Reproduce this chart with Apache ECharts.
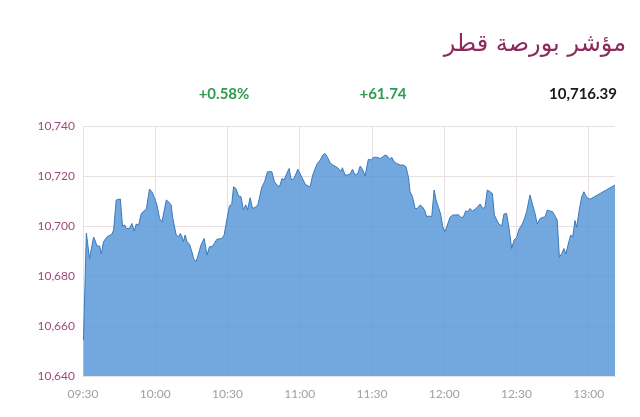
<!DOCTYPE html>
<html>
<head>
<meta charset="utf-8">
<script src="https://cdn.jsdelivr.net/npm/echarts@6/dist/echarts.min.js"></script>
<style>
html,body{margin:0;padding:0;background:#fff;}
#chart{width:640px;height:417px;}
</style>
</head>
<body>
<div id="chart"></div>
<script>
// Minutes after 09:30 open
const minutes = [
  0.2, 1.4, 2.7, 3.4, 4.4, 5.1, 5.8, 6.9, 7.6, 8.5, 10.0, 12.0, 12.7, 13.8, 14.5, 15.5,
  16.4, 17.3, 18.0, 18.7, 19.3, 20.3, 21.3, 22.1, 23.1, 24.1, 24.9, 26.3, 27.6, 28.6, 29.6,
  30.7, 31.8, 32.8, 33.4, 34.6, 35.5, 36.6, 37.3, 38.7, 39.7, 40.4, 41.1, 41.7, 42.4, 43.2,
  44.2, 45.2, 45.9, 47.0, 47.7, 49.0, 50.3, 51.5, 52.5, 53.5, 54.5, 55.6, 57.7, 58.6, 59.8,
  60.8, 61.8, 62.5, 63.5, 64.6, 65.6, 66.6, 67.6, 68.3, 69.4, 70.4, 71.5, 72.6, 74.3, 75.4,
  76.6, 77.4, 78.4, 79.5, 80.5, 81.6, 82.6, 83.5, 84.6, 85.6, 86.4, 87.4, 88.4, 89.2, 90.2,
  91.3, 92.2, 93.4, 94.3, 95.4, 96.4, 97.3, 98.5, 99.6, 100.5, 101.5, 102.6, 103.7, 105.1,
  106.1, 107.1, 107.7, 108.8, 109.8, 110.9, 111.9, 113.0, 114.1, 115.1, 116.2, 117.1, 117.8,
  118.5, 119.5, 120.6, 122.0, 123.4, 124.5, 125.4, 126.4, 127.2, 128.2, 129.2, 130.3, 131.7,
  133.0, 134.1, 135.1, 135.8, 136.8, 137.9, 138.8, 140.0, 141.1, 142.0, 142.7, 143.8, 144.8,
  145.8, 146.6, 147.6, 148.5, 149.4, 150.3, 151.3, 152.4, 153.5, 154.9, 155.9, 156.8, 157.9,
  158.9, 159.8, 160.7, 161.7, 162.8, 163.7, 164.9, 166.0, 166.9, 167.9, 169.0, 170.0, 170.8,
  171.8, 172.7, 173.9, 174.8, 175.9, 177.0, 178.0, 179.0, 180.1, 181.0, 182.2, 183.1, 184.2,
  185.6, 186.7, 187.7, 188.6, 189.8, 190.9, 191.8, 192.8, 193.9, 195.0, 196.0, 196.9, 197.8,
  198.8, 199.7, 200.5, 201.5, 202.5, 203.3, 204.3, 205.0, 206.1, 207.1, 208.0, 209.1, 210.5,
  220.9
];
const indexValues = [
  10654.4, 10697.2, 10687.0, 10687.0, 10695.6, 10694.0, 10692.0, 10692.0, 10688.8, 10693.7, 10695.7, 10696.7, 10698.4, 10710.4, 10710.8, 10710.8,
  10700.0, 10700.4, 10699.0, 10699.7, 10699.0, 10701.0, 10698.0, 10700.8, 10700.4, 10704.7, 10705.7, 10706.7, 10714.8, 10713.7, 10711.5,
  10708.4, 10703.0, 10701.7, 10701.0, 10710.4, 10709.7, 10708.4, 10703.0, 10696.4, 10695.7, 10697.0, 10695.7, 10693.7, 10696.4, 10693.7,
  10692.8, 10689.7, 10687.0, 10685.7, 10685.7, 10692.4, 10695.0, 10688.4, 10691.7, 10691.7, 10693.0, 10694.7, 10695.0, 10696.4, 10703.0,
  10708.0, 10709.0, 10715.7, 10715.0, 10712.0, 10711.7, 10706.5, 10708.5, 10706.4, 10711.3, 10707.0, 10707.5, 10708.4, 10715.7, 10717.7,
  10721.7, 10721.0, 10721.7, 10717.7, 10716.4, 10715.7, 10719.0, 10718.4, 10721.0, 10723.0, 10718.7, 10718.7, 10720.8, 10722.7, 10720.8,
  10718.7, 10716.8, 10716.0, 10715.7, 10720.4, 10723.0, 10725.0, 10726.4, 10728.4, 10729.0, 10727.5, 10725.3, 10724.4, 10723.7,
  10723.0, 10721.7, 10723.3, 10720.4, 10720.4, 10720.8, 10722.7, 10720.4, 10721.0, 10724.0, 10722.4, 10720.0, 10720.0,
  10726.7, 10726.4, 10727.5, 10727.5, 10727.0, 10727.7, 10728.4, 10728.0, 10726.7, 10727.5, 10725.7, 10725.0, 10724.4,
  10724.4, 10723.7, 10719.7, 10713.7, 10711.7, 10707.0, 10707.0, 10708.4, 10707.5, 10706.0, 10703.7, 10704.0, 10703.7,
  10714.4, 10710.4, 10707.5, 10704.8, 10699.7, 10697.7, 10700.4, 10703.5, 10704.4, 10704.4, 10704.5, 10703.5, 10703.5,
  10706.0, 10705.7, 10707.0, 10706.0, 10706.7, 10707.5, 10708.8, 10707.0, 10707.5, 10714.4, 10713.7, 10713.0, 10704.4,
  10702.4, 10700.8, 10700.0, 10704.8, 10705.0, 10698.4, 10691.0, 10694.4, 10695.5, 10698.7, 10700.4, 10702.4, 10705.7,
  10712.4, 10708.4, 10705.0, 10700.8, 10703.0, 10703.5, 10703.5, 10706.4, 10706.0, 10705.7, 10704.0, 10702.4, 10687.5,
  10689.0, 10691.0, 10688.8, 10692.8, 10696.4, 10695.5, 10702.2, 10699.5, 10706.7, 10711.7, 10713.7, 10711.5, 10710.7,
  10716.39
];
const titleText = 'مؤشر بورصة قطر';
const changePct = '+0.58%';
const changePts = '+61.74';
const lastValue = '10,716.39';
const yTicks = [10640, 10660, 10680, 10700, 10720, 10740];
const xTickLabels = ['09:30','10:00','10:30','11:00','11:30','12:00','12:30','13:00'];

const chart = echarts.init(document.getElementById('chart'), null, {renderer: 'canvas'});
const seriesData = minutes.map((m, i) => [m, indexValues[i]]);
const gridColor = '#e8dfe3';

chart.setOption({
  animation: false,
  backgroundColor: '#ffffff',
  grid: {left: 83, right: 25, top: 126, bottom: 41},
  title: {
    text: titleText,
    right: 9,
    top: 28,
    textStyle: {fontFamily: 'DejaVu Sans', fontSize: 24, fontWeight: 'normal', color: '#8b2a5b'}
  },
  graphic: [
    {type: 'text', x: 224, y: 94, style: {text: changePct, align: 'center', verticalAlign: 'middle', fill: '#2e9b50', font: 'bold 15px Lato'}},
    {type: 'text', x: 383, y: 94, style: {text: changePts, align: 'center', verticalAlign: 'middle', fill: '#2e9b50', font: 'bold 15px Lato'}},
    {type: 'text', x: 617, y: 94, style: {text: lastValue, align: 'right', verticalAlign: 'middle', fill: '#1a1a1a', font: 'bold 15px Lato'}}
  ],
  xAxis: {
    type: 'value',
    min: 0,
    max: 220.9,
    interval: 30,
    axisLine: {show: true, lineStyle: {color: gridColor}},
    axisTick: {show: false},
    splitLine: {show: true, showMaxLine: false, lineStyle: {color: gridColor, width: 1}},
    axisLabel: {
      color: '#a0a0a0', fontFamily: 'Lato', fontSize: 12, margin: 12,
      showMaxLabel: false,
      formatter: function (v) {
        if (Math.abs(v % 30) > 0.01) return '';
        return xTickLabels[Math.round(v / 30)] || '';
      }
    }
  },
  yAxis: {
    type: 'value',
    min: yTicks[0],
    max: yTicks[yTicks.length - 1],
    interval: 20,
    axisLine: {show: false},
    axisTick: {show: false},
    splitLine: {show: true, lineStyle: {color: gridColor, width: 1}},
    axisLabel: {
      color: '#9e4a78', fontFamily: 'Lato', fontSize: 12, margin: 8,
      formatter: function (v) { return v.toLocaleString('en-US'); }
    }
  },
  series: [{
    type: 'line',
    data: seriesData,
    showSymbol: false,
    smooth: false,
    lineStyle: {color: '#3a7abd', width: 1},
    areaStyle: {color: '#4f92d4', opacity: 0.8, origin: 'start'},
    z: 1
  }]
});
</script>
</body>
</html>
